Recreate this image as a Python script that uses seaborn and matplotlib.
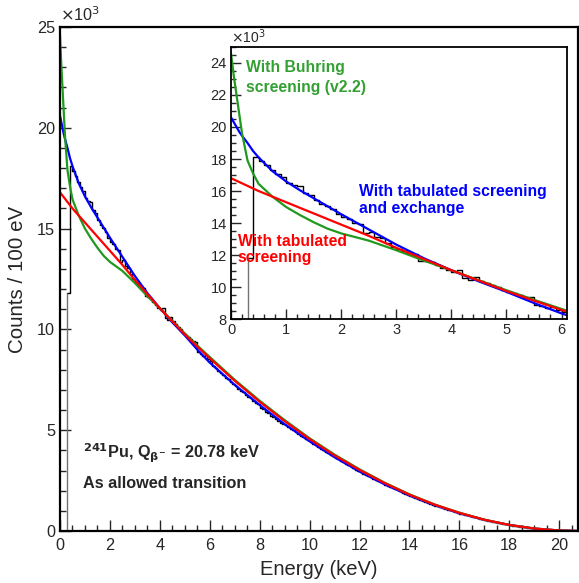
import numpy as np
import pandas as pd
import seaborn as sns
from matplotlib import pyplot as plt
from matplotlib.ticker import MultipleLocator

# Pu-241 beta spectrum, counts in units of 10^3 per 100 eV bin
bin_lo = 0.3   # first filled bin edge (keV)
bin_w = 0.1    # keV
hist_counts = [
    11.8,
    18.1, 17.85, 17.6, 17.3, 17.05, 16.85,
    16.5, 16.35, 16.3, 15.9, 15.75, 15.45, 15.2, 15.05, 14.85, 14.55,
    14.35, 14.25, 14.0, 13.95, 13.35, 13.45, 13.15, 13.05, 12.75, 12.5,
    12.35, 12.25, 12.15, 12.05, 11.65, 11.6, 11.55, 11.35, 11.2, 11.05,
    10.95, 11.05, 10.55, 10.45, 10.6, 10.4, 10.25, 10.1, 10.0, 9.8,
    9.7, 9.6, 9.5, 9.4, 9.35, 8.9, 8.8, 8.7, 8.75, 8.55,
    8.45,
    8.2, 8.1, 7.95, 7.85, 7.75, 7.6, 7.55, 7.4, 7.3,
    7.2, 7.05, 6.95, 6.9, 6.75, 6.65, 6.6, 6.45, 6.35, 6.3,
    6.1, 6.05, 5.9, 5.85, 5.7, 5.65, 5.55, 5.45, 5.35, 5.3,
    5.25, 5.15, 5.05, 5.0, 4.9, 4.8, 4.7, 4.65, 4.55, 4.5,
    4.4, 4.3, 4.25, 4.15, 4.05, 4.0, 3.9, 3.85, 3.75, 3.7,
    3.62, 3.55, 3.48, 3.4, 3.34, 3.26, 3.2, 3.12, 3.05, 2.98,
    2.92, 2.85, 2.8, 2.72, 2.66, 2.6, 2.55, 2.48, 2.42, 2.36,
    2.29, 2.24, 2.18, 2.12, 2.07, 2.01, 1.96, 1.9, 1.85, 1.79,
    1.74, 1.69, 1.64, 1.59, 1.55, 1.5, 1.45, 1.41, 1.36, 1.31,
    1.26, 1.22, 1.18, 1.14, 1.1, 1.06, 1.02, 0.98, 0.94, 0.9,
    0.86, 0.83, 0.8, 0.77, 0.73, 0.7, 0.67, 0.64, 0.61, 0.58,
    0.54, 0.51, 0.49, 0.46, 0.44, 0.42, 0.39, 0.37, 0.35, 0.33,
    0.29, 0.27, 0.26, 0.24, 0.22, 0.21, 0.19, 0.17, 0.16, 0.14,
    0.12, 0.11, 0.1, 0.09, 0.08, 0.07, 0.06, 0.05, 0.045, 0.035,
    0.03, 0.02, 0.015, 0.01, 0.006, 0.003, 0.001, 0.0,
]

# model curves (10^3 counts / 100 eV)
curve_e = [0, 0.05, 0.1, 0.15, 0.2, 0.3, 0.4, 0.5, 0.75, 1.0, 1.25, 1.5,
           1.75, 2.0, 2.5, 3.0, 3.5, 4.0, 4.5, 5.0, 5.5, 6.0, 7, 8, 9, 10,
           11, 12, 13, 14, 15, 16, 17, 18, 19, 20, 20.78]
exch = [20.6, 20.3, 20.0, 19.7, 19.45, 19.0, 18.5, 18.1, 17.25, 16.6, 16.05,
        15.55, 15.05, 14.55, 13.6, 12.65, 11.8, 11.05, 10.35, 9.7, 9.0, 8.35,
        7.25, 6.25, 5.3, 4.45, 3.66, 2.95, 2.32, 1.76, 1.28, 0.88, 0.55, 0.30,
        0.12, 0.025, 0.0]
tab = [16.8, 16.72, 16.64, 16.56, 16.48, 16.32, 16.16, 16.0, 15.65, 15.3,
       14.95, 14.6, 14.25, 13.9, 13.2, 12.45, 11.75, 11.05, 10.4, 9.75, 9.15,
       8.57, 7.45, 6.41, 5.45, 4.56, 3.75, 3.03, 2.38, 1.8, 1.31, 0.9, 0.56,
       0.3, 0.125, 0.024, 0.0]
buhring = [24.6, 23.2, 22.0, 20.8, 19.6, 17.9, 17.1, 16.45, 15.65, 15.0,
           14.5, 14.05, 13.65, 13.35, 12.9, 12.3, 11.65, 11.05, 10.42, 9.8,
           9.2, 8.63, 7.5, 6.46, 5.5, 4.6, 3.79, 3.06, 2.4, 1.82, 1.32, 0.91,
           0.56, 0.3, 0.125, 0.024, 0.0]

GREEN = "#1f9a1f"
RED = "#ff0000"
BLUE = "#0000ff"

sns.set_style("ticks")
plt.rcParams['font.family'] = ['Liberation Sans', 'DejaVu Sans']

hist_edges = [round(bin_lo + bin_w * i, 2) for i in range(len(hist_counts) + 1)]
hist_df = pd.DataFrame({"energy": [e + bin_w / 2 for e in hist_edges[:-1]],
                        "counts": hist_counts})


def draw(ax, lw):
    # histogram outline, then the three model curves
    sns.histplot(data=hist_df, x="energy", weights="counts", bins=hist_edges,
                 element="step", fill=False, color="black", lw=1, ax=ax)
    ax.vlines(hist_edges[0], 0, hist_counts[0], color="0.45", lw=1)
    sns.lineplot(x=curve_e, y=exch, color=BLUE, lw=lw, ax=ax)
    sns.lineplot(x=curve_e, y=buhring, color=GREEN, lw=lw, ax=ax)
    sns.lineplot(x=curve_e, y=tab, color=RED, lw=lw, ax=ax)
    ax.set_ylabel("")
    ax.set_xlabel("")
    for s in ax.spines.values():
        s.set_visible(True)
        s.set_color("black")


fig = plt.figure(figsize=(5.79, 5.83), dpi=100)
ax = fig.add_axes([0.1036, 0.0892, 0.8946, 0.8645])
draw(ax, 1.6)
ax.set_xlim(0, 20.75)
ax.set_ylim(0, 25)
ax.xaxis.set_major_locator(MultipleLocator(2))
ax.xaxis.set_minor_locator(MultipleLocator(0.5))
ax.yaxis.set_major_locator(MultipleLocator(5))
ax.yaxis.set_minor_locator(MultipleLocator(1))
ax.tick_params(which="both", direction="in", labelsize=11.7, width=1)
ax.tick_params(which="major", length=8)
ax.tick_params(which="minor", length=4)
ax.tick_params(axis="x", pad=5)
for s in ax.spines.values():
    s.set_linewidth(1.6)
ax.set_xlabel("Energy (keV)", fontsize=14.5)
ax.set_ylabel("Counts / 100 eV", fontsize=14.8)
ax.xaxis.set_label_coords(0.5, -0.058)
ax.yaxis.set_label_coords(-0.064, 0.5)
ax.text(0.0, 1.005, r"$\times$10$^3$", transform=ax.transAxes,
        fontsize=11.7, va="bottom", ha="left")
ax.text(0.045, 0.145, r"$\mathbf{^{241}}$Pu, Q$_{\mathbf{\beta^{-}}}$ = 20.78 keV",
        transform=ax.transAxes, fontsize=11.7, fontweight="bold")
ax.text(0.045, 0.085, "As allowed transition", transform=ax.transAxes,
        fontsize=11.7, fontweight="bold")

# zoomed inset of the low energy region
axi = fig.add_axes([0.399, 0.4528, 0.5803, 0.4666])
draw(axi, 1.6)
axi.set_xlim(0, 6.1)
axi.set_ylim(8, 25)
axi.xaxis.set_major_locator(MultipleLocator(1))
axi.xaxis.set_minor_locator(MultipleLocator(0.2))
axi.yaxis.set_major_locator(MultipleLocator(2))
axi.yaxis.set_minor_locator(MultipleLocator(0.5))
axi.tick_params(which="both", direction="in", labelsize=10.5, width=1, pad=3)
axi.tick_params(which="major", length=7)
axi.tick_params(which="minor", length=3.5)
for s in axi.spines.values():
    s.set_linewidth(1.3)
axi.text(0.0, 1.003, r"$\times$10$^3$", transform=axi.transAxes,
         fontsize=10, va="bottom", ha="left")
axi.text(0.045, 0.835, "With Buhring\nscreening (v2.2)", transform=axi.transAxes,
         color="#33a033", fontsize=11.3, fontweight="bold", linespacing=1.4)
axi.text(0.38, 0.39, "With tabulated screening\nand exchange",
         transform=axi.transAxes, color=BLUE, fontsize=11.3,
         fontweight="bold", linespacing=1.2)
axi.text(0.02, 0.21, "With tabulated\nscreening", transform=axi.transAxes,
         color=RED, fontsize=11.3, fontweight="bold", linespacing=1.05)

fig.savefig("out.png", dpi=100)
